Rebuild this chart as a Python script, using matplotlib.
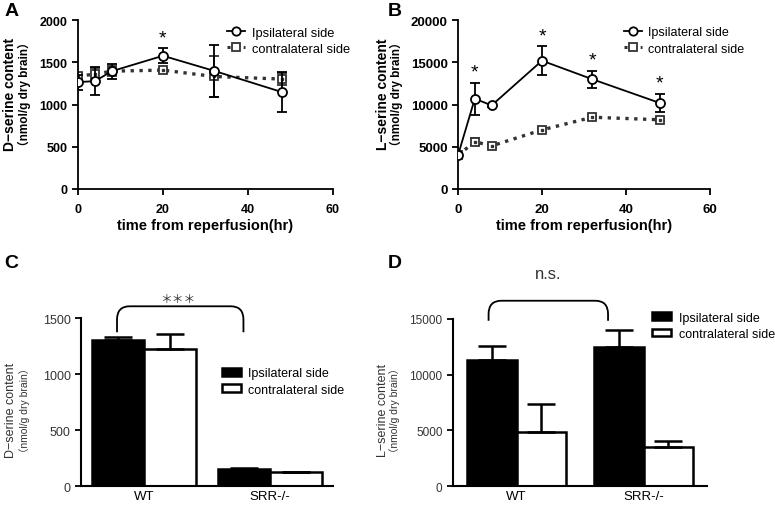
import numpy as np
import matplotlib.pyplot as plt
from matplotlib.path import Path
from matplotlib.patches import PathPatch

plt.rcParams['font.family'] = ['Liberation Sans', 'Noto Sans CJK JP', 'DejaVu Sans']

# time course data (panels A, B)
t = [0, 4, 8, 20, 32, 48]
d_ipsi = [1266, 1278, 1396, 1578, 1400, 1148]
d_ipsi_err = [90, 165, 90, 87, 305, 237]
d_contra = [1337, 1360, 1396, 1408, 1333, 1302]
d_contra_err = [40, 70, 60, 25, 240, 70]
stars_A = [20]

l_ipsi = [4000, 10700, 9900, 15200, 13000, 10200]
l_ipsi_err = [300, 1900, 200, 1700, 1000, 1100]
l_contra = [4000, 5600, 5100, 7000, 8500, 8200]
l_contra_err = [300, 400, 200, 200, 200, 200]
stars_B = [4, 20, 32, 48]

# bar data (panels C, D)
groups = ['WT', 'SRR-/-']
c_ipsi = [1310, 155]
c_ipsi_err = [20, 10]
c_contra = [1228, 125]
c_contra_err = [135, 5]
dd_ipsi = [11300, 12500]
dd_ipsi_err = [1250, 1450]
dd_contra = [4850, 3500]
dd_contra_err = [2500, 580]

fig = plt.figure(figsize=(7.75, 5.1), dpi=100)


def line_panel(rect, ipsi, ie, contra, ce, ymax, ystep, tfs, stars, soff):
    ax = fig.add_axes(rect)
    ax.errorbar(t, contra, yerr=ce, color='#333333', ls=':', lw=2.4,
                marker='s', ms=6, mfc='white', mec='#333333', mew=1.3,
                capsize=3.5, elinewidth=1.3, ecolor='#333333', zorder=2)
    ax.plot(t, contra, ls='none', marker='s', ms=1.8, color='#333333', zorder=3)
    ax.errorbar(t, ipsi, yerr=ie, color='black', ls='-', lw=1.3,
                marker='o', ms=6.5, mfc='white', mec='black', mew=1.3,
                capsize=3.5, elinewidth=1.3, ecolor='black', zorder=4)
    for s in stars:
        i = t.index(s)
        ax.text(s, ipsi[i] + ie[i] + soff, '*', ha='center', va='bottom',
                fontsize=14)
    ax.set_xlim(0, 60)
    ax.set_ylim(0, ymax)
    ax.set_xticks([0, 20, 40, 60])
    ax.set_yticks(np.arange(0, ymax + 1, ystep))
    for s in ['top', 'right']:
        ax.spines[s].set_visible(False)
    for s in ['left', 'bottom']:
        ax.spines[s].set_linewidth(1.3)
    ax.tick_params(direction='out', length=4, width=1.3, labelsize=tfs)
    ax.tick_params(axis='x', pad=6)
    for l in ax.get_xticklabels() + ax.get_yticklabels():
        l.set_fontweight('bold')
    ax.set_xlabel('time from reperfusion(hr)', fontsize=10.5,
                  fontweight='bold', labelpad=2)
    h1 = ax.plot([], [], color='black', lw=1.3, marker='o', ms=6,
                 mfc='white', mew=1.3)[0]
    h2 = ax.plot([], [], color='#333333', ls=':', lw=2.2, marker='s', ms=5.5,
                 mfc='white', mew=1.3)[0]
    return ax, [h1, h2]


axA, hA = line_panel([0.1006, 0.6275, 0.329, 0.331], d_ipsi, d_ipsi_err,
                     d_contra, d_contra_err, 2000, 500, 9, stars_A, 20)
axA.legend(hA, ['Ipsilateral side', 'contralateral side'], loc='upper left',
           bbox_to_anchor=(0.54, 1.03), frameon=False, fontsize=9.3,
           handlelength=1.4, handletextpad=0.5, labelspacing=0.3)
axB, hB = line_panel([0.591, 0.6275, 0.325, 0.331], l_ipsi, l_ipsi_err,
                     l_contra, l_contra_err, 20000, 5000, 9.5, stars_B, 250)
axB.legend(hB, ['Ipsilateral side', 'contralateral side'], loc='upper left',
           bbox_to_anchor=(0.615, 1.03), frameon=False, fontsize=9,
           handlelength=1.4, handletextpad=0.5, labelspacing=0.35)

fig.text(0.013, 0.815, 'D−serine content', rotation=90, ha='center',
         va='center', fontsize=10, fontweight='bold')
fig.text(0.031, 0.815, '（nmol/g dry brain）', rotation=90, ha='center',
         va='center', fontsize=8.5, fontweight='bold')
fig.text(0.494, 0.815, 'L−serine content', rotation=90, ha='center',
         va='center', fontsize=10, fontweight='bold')
fig.text(0.512, 0.815, '（nmol/g dry brain）', rotation=90, ha='center',
         va='center', fontsize=8.5, fontweight='bold')


def bracket(ax, x0, x1, yb, yt, dx, dy):
    verts = [(x0, yb), (x0, yt - dy), (x0, yt), (x0 + dx, yt),
             (x1 - dx, yt), (x1, yt), (x1, yt - dy), (x1, yb)]
    codes = [Path.MOVETO, Path.LINETO, Path.CURVE3, Path.CURVE3,
             Path.LINETO, Path.CURVE3, Path.CURVE3, Path.LINETO]
    ax.add_patch(PathPatch(Path(verts, codes), fill=False, lw=1.3,
                           ec='black', clip_on=False))


def bar_panel(rect, ipsi, ie, contra, ce, ymax, ystep, w, tfs):
    ax = fig.add_axes(rect)
    x = np.arange(len(groups))
    ax.bar(x - w / 2, ipsi, w, yerr=[[0] * len(ie), ie], color='black',
           edgecolor='black', lw=1.8, capsize=10,
           error_kw=dict(elinewidth=1.8, capthick=1.8), label='Ipsilateral side')
    ax.bar(x + w / 2, contra, w, yerr=[[0] * len(ce), ce], color='white',
           edgecolor='black', lw=1.8, capsize=10,
           error_kw=dict(elinewidth=1.8, capthick=1.8), label='contralateral side')
    ax.set_xlim(-0.5, 1.5)
    ax.set_ylim(0, ymax)
    ax.set_yticks(np.arange(0, ymax + 1, ystep))
    ax.set_xticks(x)
    ax.set_xticklabels(groups)
    for s in ['top', 'right']:
        ax.spines[s].set_visible(False)
    for s in ['left', 'bottom']:
        ax.spines[s].set_linewidth(1.5)
    ax.tick_params(axis='x', length=0, labelsize=9.5, pad=3)
    ax.tick_params(axis='y', direction='out', length=4, width=1.3,
                   labelsize=tfs, labelcolor='#333333')
    return ax


axC = bar_panel([0.1045, 0.045, 0.325, 0.329], c_ipsi, c_ipsi_err,
                c_contra, c_contra_err, 1500, 500, 0.41, 9)
axC.legend(loc='upper left', bbox_to_anchor=(0.515, 0.775), frameon=False,
           fontsize=9, handlelength=1.5, handleheight=0.55,
           handletextpad=0.6, labelspacing=0.35)
bracket(axC, -0.214, 0.79, 1375, 1607, 0.1, 120)
axC.text(0.27, 1620, '＊＊＊', ha='center', va='bottom', fontsize=8.5,
         color='#333333')

axD = bar_panel([0.5845, 0.045, 0.328, 0.328], dd_ipsi, dd_ipsi_err,
                dd_contra, dd_contra_err, 15000, 5000, 0.39, 8.5)
axD.legend(loc='upper left', bbox_to_anchor=(0.74, 1.11), frameon=False,
           fontsize=9, handlelength=1.5, handleheight=0.55,
           handletextpad=0.6, labelspacing=0.35)
bracket(axD, -0.22, 0.72, 14820, 16617, 0.1, 1200)
axD.text(0.25, 19040, 'n.s.', ha='center', va='center', fontsize=12,
         color='#333333')

fig.text(0.014, 0.195, 'D−serine content', rotation=90,
         ha='center', va='center', fontsize=9, color='#333333')
fig.text(0.032, 0.195, '（nmol/g dry brain）', rotation=90, ha='center',
         va='center', fontsize=7.5, color='#333333')
fig.text(0.494, 0.195, 'L−serine content', rotation=90, ha='center',
         va='center', fontsize=9, color='#333333')
fig.text(0.509, 0.195, '（nmol/g dry brain）', rotation=90, ha='center',
         va='center', fontsize=7.5, color='#333333')

for lbl, x, y in [('A', 0.006, 0.995), ('B', 0.5, 0.995),
                  ('C', 0.006, 0.5), ('D', 0.5, 0.5)]:
    fig.text(x, y, lbl, fontsize=14, fontweight='bold', va='top')

fig.savefig('out.png', dpi=100)
